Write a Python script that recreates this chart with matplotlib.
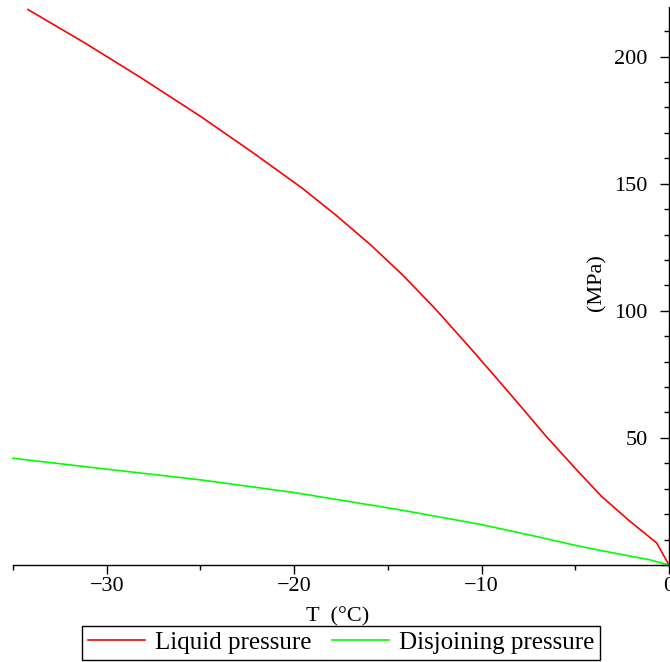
import matplotlib
matplotlib.use("Agg")
import matplotlib.pyplot as plt
from matplotlib.ticker import MultipleLocator, FuncFormatter

# Data
liquid_T = [-34.2, -31.2, -28.2, -25.0, -22.2, -19.6, -17.8, -15.9, -14.2, -12.5,
            -10.5, -8.5, -6.6, -5.0, -3.6, -2.1, -0.66, 0.0]
liquid_P = [218.5, 205.5, 191.8, 176.5, 162.2, 148.4, 137.8, 125.8, 114.0, 101.0,
            84.5, 67.5, 51.0, 38.0, 27.0, 17.3, 8.7, 0.0]

disj_T = [-35.0, -30.0, -25.0, -20.0, -14.35, -10.08, -6.88, -5.1, -3.5, -1.0, 0.0]
disj_P = [42.0, 37.7, 33.5, 28.5, 21.7, 16.0, 10.9, 7.9, 5.5, 2.0, 0.0]

labels = ["Liquid pressure", "Disjoining pressure"]
colors = ["#ff0000", "#00ff00"]

plt.rcParams['font.family'] = ['Liberation Serif', 'DejaVu Serif']

fig = plt.figure(figsize=(6.70, 6.62), dpi=100)
ax = fig.add_axes([13/670, 1 - 565/662, 656/670, 558/662])

ax.plot(liquid_T, liquid_P, color=colors[0], lw=1.2, label=labels[0], clip_on=False)
ax.plot(disj_T, disj_P, color=colors[1], lw=1.2, label=labels[1], clip_on=False)

ax.set_xlim(-35, 0)
ax.set_ylim(0, 219.5)

for s in ['top', 'right']:
    ax.spines[s].set_visible(False)
ax.spines['left'].set_position(('data', 0))
ax.spines['bottom'].set_position(('data', 0))
ax.spines['left'].set_linewidth(1.0)
ax.spines['bottom'].set_linewidth(1.0)

ax.xaxis.set_major_locator(MultipleLocator(10))
ax.xaxis.set_minor_locator(MultipleLocator(5))
ax.yaxis.set_major_locator(MultipleLocator(50))
ax.yaxis.set_minor_locator(MultipleLocator(10))

def xfmt(v, pos):
    v = int(round(v))
    return "\u2212" + str(-v) if v < 0 else str(v)

def yfmt(v, pos):
    v = int(round(v))
    return "" if v == 0 else str(v)

ax.xaxis.set_major_formatter(FuncFormatter(xfmt))
ax.yaxis.set_major_formatter(FuncFormatter(yfmt))

ax.tick_params(axis='x', which='major', direction='out', length=6.5, width=1.0, labelsize=16, pad=2)
ax.tick_params(axis='y', which='major', direction='out', length=6.5, width=1.0, labelsize=16, pad=9)
ax.tick_params(axis='both', which='minor', direction='out', length=3.5, width=1.0)

fig.text(338/670, 1 - 617/662, "T  (\u00b0C)", ha='center', va='center', fontsize=16)
fig.text(597/670, 1 - 283/662, "(MPa)", ha='center', va='center', rotation=90, fontsize=16)

leg = fig.legend(loc='lower center', bbox_to_anchor=(341/670, 0.0), ncol=2, fontsize=18,
                 fancybox=False, framealpha=1, edgecolor='black', borderpad=0.22,
                 handlelength=2.3, handletextpad=0.4, columnspacing=0.8, borderaxespad=0.1)
leg.get_frame().set_linewidth(1.0)

fig.savefig("out.png", dpi=100)
